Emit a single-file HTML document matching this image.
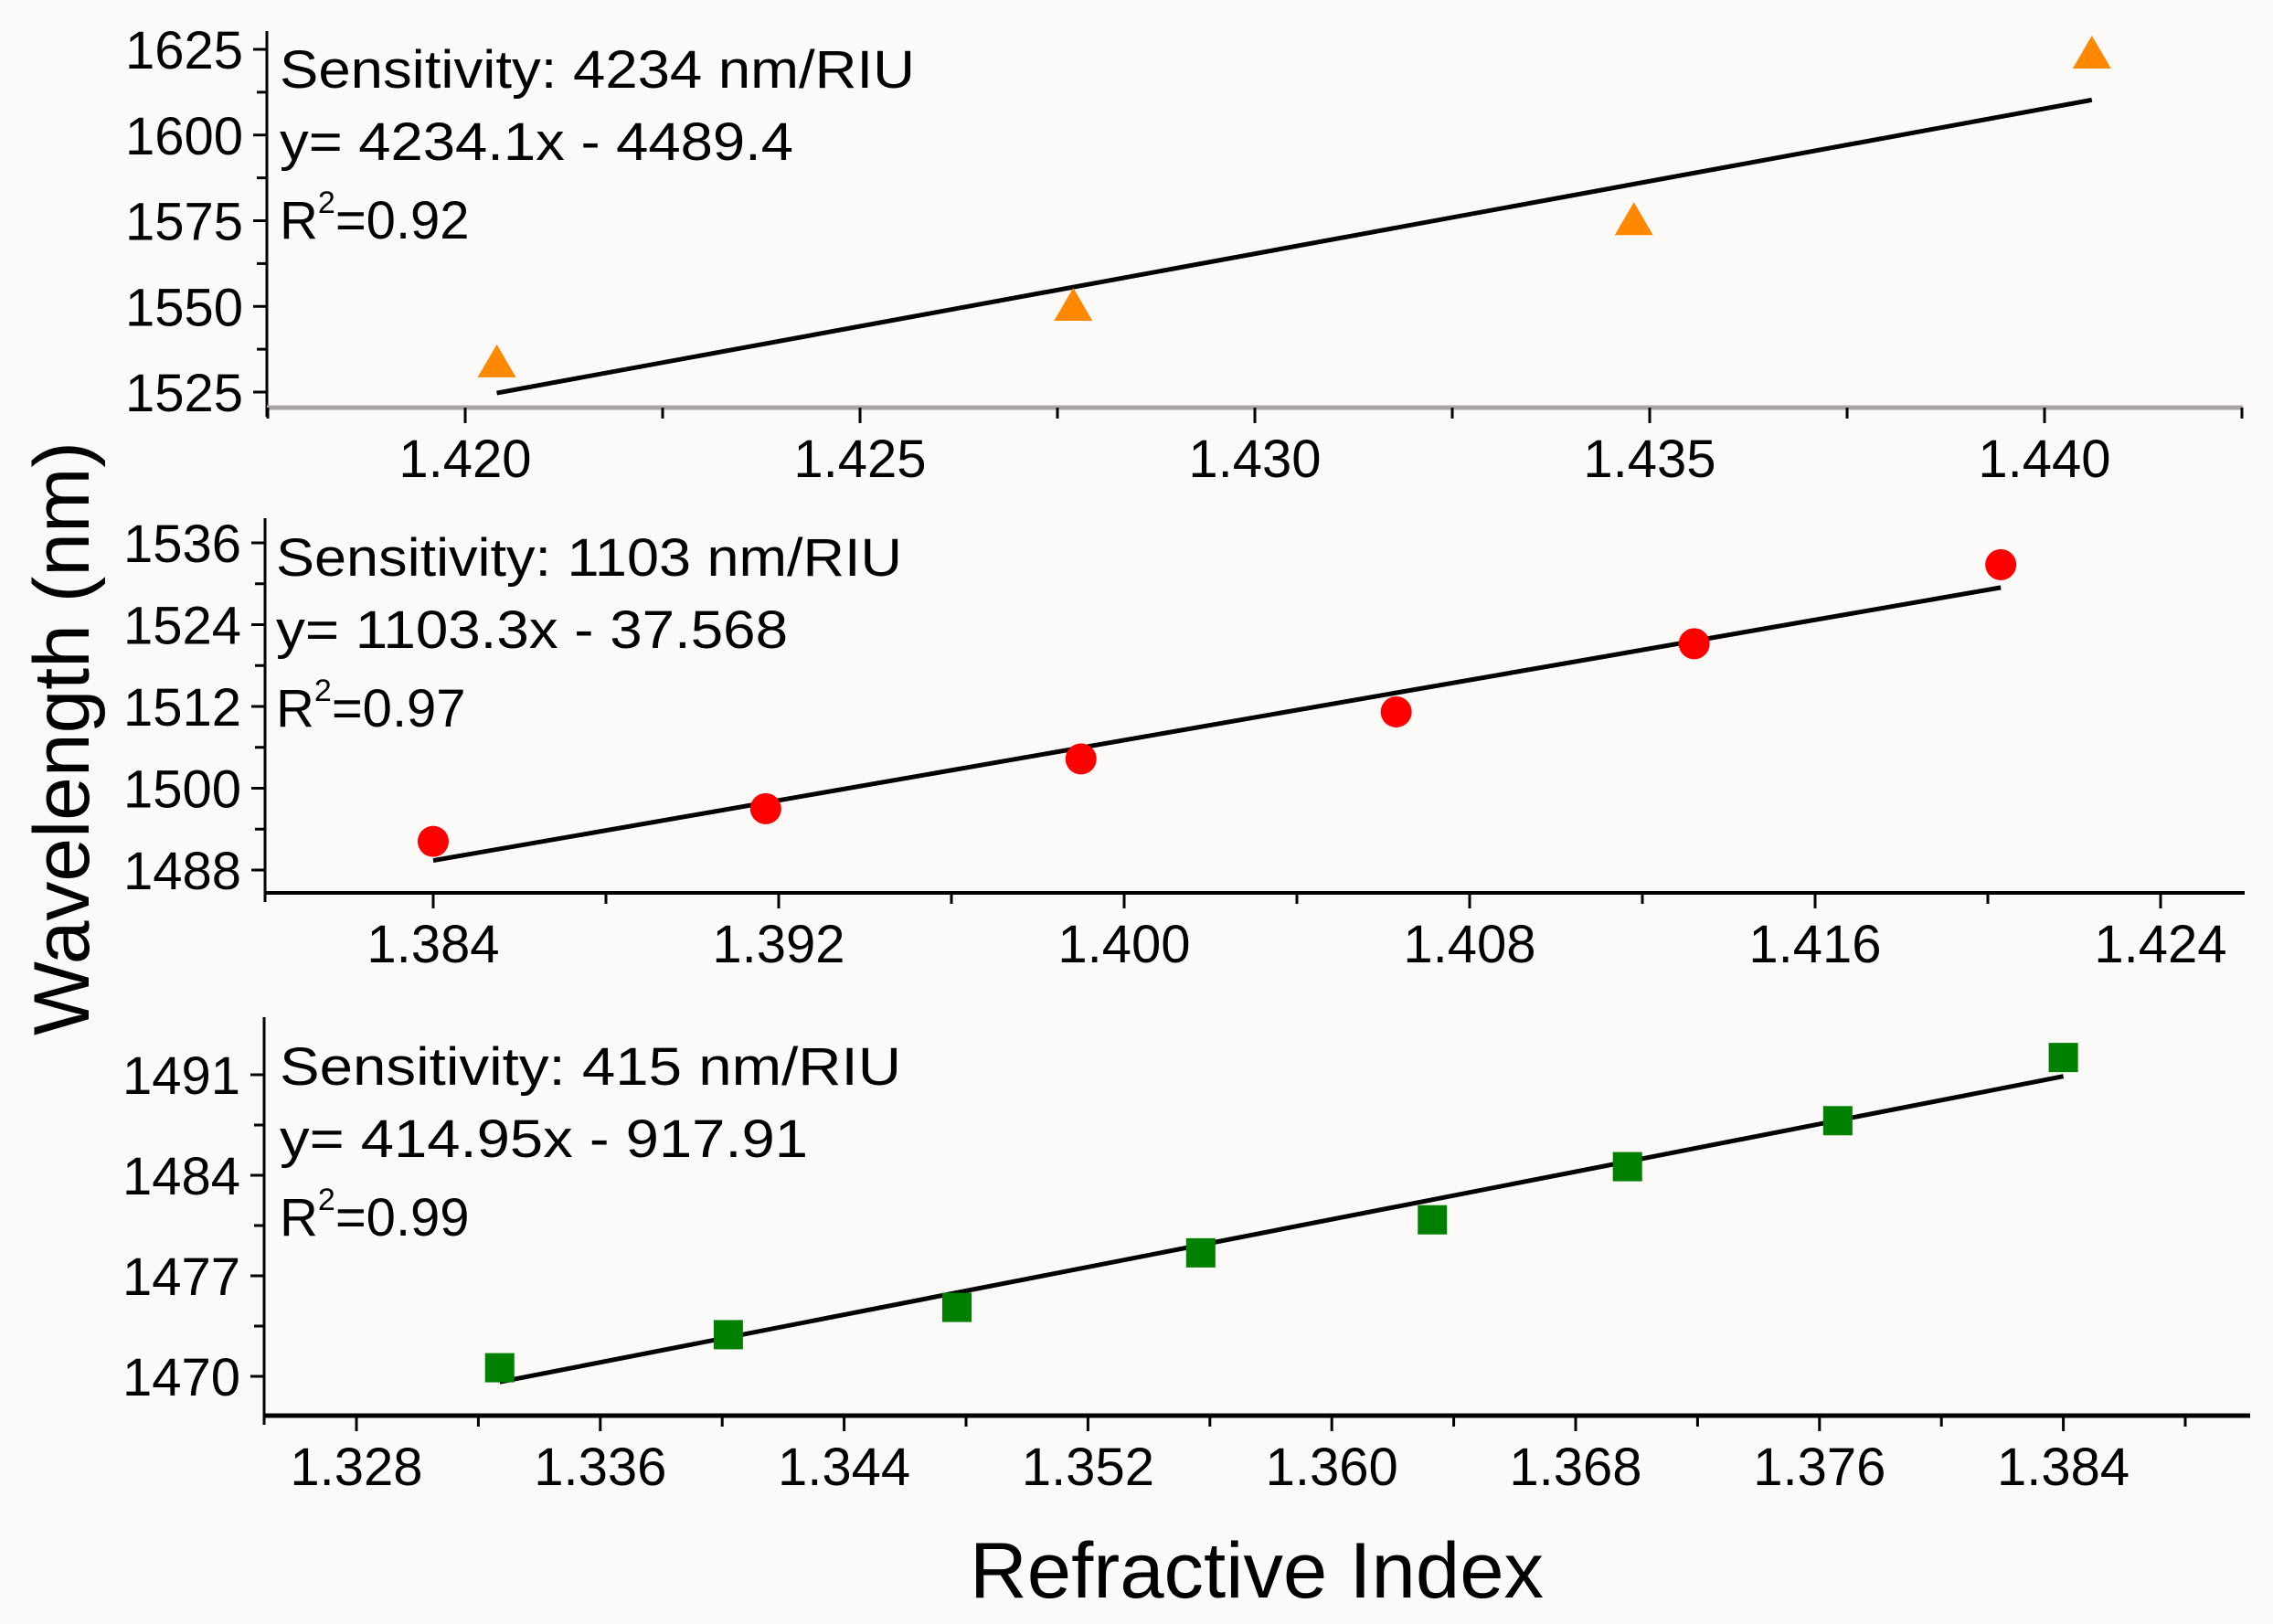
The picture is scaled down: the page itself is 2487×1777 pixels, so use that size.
<!DOCTYPE html>
<html><head><meta charset="utf-8"><style>
html,body{margin:0;padding:0;background:#fbfaf8;width:2487px;height:1777px;overflow:hidden;}
svg{display:block;font-family:"Liberation Sans",sans-serif;}
</style></head><body>
<svg id="chart" width="2487" height="1777" viewBox="0 0 2487 1777" xmlns="http://www.w3.org/2000/svg">
<rect x="0" y="0" width="2487" height="1777" fill="#fbfaf8"/>
<text x="97" y="808" font-size="86" text-anchor="middle" textLength="650" lengthAdjust="spacingAndGlyphs" transform="rotate(-90 97 808)">Wavelength (nm)</text>
<text x="1375" y="1748" font-size="86" text-anchor="middle" textLength="628" lengthAdjust="spacingAndGlyphs">Refractive Index</text>
</svg>
<script>
// Panel 1 (orange triangles)
const p1X = [1.4204, 1.4277, 1.4348, 1.4406];
const p1Y = [1532.5, 1549, 1574, 1622.6];
const p1XTicks = [1.420, 1.425, 1.430, 1.435, 1.440];
const p1YTicks = [1525, 1550, 1575, 1600, 1625];
const p1Fit = [4234.1, -4489.4];
const p1Text = ["Sensitivity: 4234 nm/RIU", "y= 4234.1x - 4489.4", "0.92"];
// Panel 2 (red circles)
const p2X = [1.384, 1.3917, 1.3990, 1.4063, 1.4132, 1.4203];
const p2Y = [1492.2, 1497.0, 1504.3, 1511.2, 1521.2, 1532.8];
const p2XTicks = [1.384, 1.392, 1.400, 1.408, 1.416, 1.424];
const p2YTicks = [1488, 1500, 1512, 1524, 1536];
const p2Fit = [1103.3, -37.568];
const p2Text = ["Sensitivity: 1103 nm/RIU", "y= 1103.3x - 37.568", "0.97"];
// Panel 3 (green squares)
const p3X = [1.3327, 1.3402, 1.3477, 1.3557, 1.3633, 1.3697, 1.3766, 1.384];
const p3Y = [1470.6, 1472.9, 1474.8, 1478.6, 1480.9, 1484.6, 1487.8, 1492.2];
const p3XTicks = [1.328, 1.336, 1.344, 1.352, 1.360, 1.368, 1.376, 1.384];
const p3YTicks = [1470, 1477, 1484, 1491];
const p3Fit = [414.95, 916.6];
const p3Text = ["Sensitivity: 415 nm/RIU", "y= 414.95x - 917.91", "0.99"];

const NS = "http://www.w3.org/2000/svg";
const svg = document.getElementById('chart');
function mk(tag, attrs, parent) {
  const e = document.createElementNS(NS, tag);
  for (const k in attrs) e.setAttribute(k, attrs[k]);
  (parent || svg).appendChild(e);
  return e;
}

function panel(cfg) {
  const g = mk('g', {});
  
  
  const xs = v => cfg.xPix0 + (v - cfg.xv0) / cfg.xStep * cfg.xPixStep;
  const ys = v => cfg.yPix0 - (v - cfg.yv0) / cfg.yStep * cfg.yPixStep;
  const ya = mk('line', {x1: cfg.axX, y1: cfg.axTop, x2: cfg.axX, y2: cfg.axY + 10, stroke: '#000', 'stroke-width': 3}, g);
  
  
  const xa = mk('line', {x1: cfg.axX, y1: cfg.axY, x2: cfg.axRight, y2: cfg.axY, stroke: cfg.xAxisColor, 'stroke-width': cfg.xAxisW}, g);
  
  
  cfg.yTicks.forEach((v, i) => {
    const y = ys(v);
    mk('line', {x1: cfg.axX - 15, y1: y, x2: cfg.axX, y2: y, stroke: '#000', 'stroke-width': 3}, g);
    const t = mk('text', {x: cfg.axX - 26, y: y + 21, 'font-size': 58, 'text-anchor': 'end'}, g);
    t.textContent = v;
    
    
    if (i < cfg.yTicks.length - 1) {
      const ym = ys(v + cfg.yStep / 2);
      mk('line', {x1: cfg.axX - 11, y1: ym, x2: cfg.axX, y2: ym, stroke: '#000', 'stroke-width': 3}, g);
    }
  });
  cfg.xTicks.forEach((v, i) => {
    const x = xs(v);
    mk('line', {x1: x, y1: cfg.axY, x2: x, y2: cfg.axY + 17, stroke: '#000', 'stroke-width': 3}, g);
    const t = mk('text', {x: x, y: cfg.axY + 76, 'font-size': 58, 'text-anchor': 'middle'}, g);
    t.textContent = v.toFixed(3);
    
    
    const xm = xs(v + cfg.xStep / 2);
    if (xm < cfg.axRight) mk('line', {x1: xm, y1: cfg.axY, x2: xm, y2: cfg.axY + 12, stroke: '#000', 'stroke-width': 3}, g);
    if (i === 0) {
      const xb = xs(v - cfg.xStep / 2);
      if (xb > cfg.axX) mk('line', {x1: xb, y1: cfg.axY, x2: xb, y2: cfg.axY + 12, stroke: '#000', 'stroke-width': 3}, g);
    }
  });
  const x0 = cfg.px[0], x1 = cfg.px[cfg.px.length - 1];
  const fit = mk('line', {x1: xs(x0), y1: ys(cfg.fit[0] * x0 + cfg.fit[1]), x2: xs(x1), y2: ys(cfg.fit[0] * x1 + cfg.fit[1]), stroke: '#000', 'stroke-width': 5}, g);
  
  
  cfg.px.forEach((v, i) => {
    const cx = xs(v), cy = ys(cfg.py[i]);
    let m;
    if (cfg.marker === 'tri') {
      m = mk('polygon', {points: `${cx},${cy - 24} ${cx - 21},${cy + 12} ${cx + 21},${cy + 12}`, fill: cfg.color}, g);
    } else if (cfg.marker === 'circle') {
      m = mk('circle', {cx: cx, cy: cy, r: 17, fill: cfg.color}, g);
    } else {
      m = mk('rect', {x: cx - 16, y: cy - 16, width: 32, height: 32, fill: cfg.color}, g);
    }
    
    
  });
  const a1 = mk('text', {x: cfg.tx, y: cfg.ty, 'font-size': 58, textLength: cfg.w1, lengthAdjust: 'spacingAndGlyphs'}, g);
  a1.textContent = cfg.text[0];
  
  
  const a2 = mk('text', {x: cfg.tx, y: cfg.ty + 79, 'font-size': 58, textLength: cfg.w2, lengthAdjust: 'spacingAndGlyphs'}, g);
  a2.textContent = cfg.text[1];
  
  
  const a3 = mk('text', {x: cfg.tx, y: cfg.ty + 165, 'font-size': 58}, g);
  
  
  const s1 = mk('tspan', {}, a3); s1.textContent = 'R';
  const s2 = mk('tspan', {'font-size': 34, dy: -28}, a3); s2.textContent = '2';
  const s3 = mk('tspan', {dy: 28}, a3); s3.textContent = '=' + cfg.text[2];
}

panel({name: 'panel-top', px: p1X, py: p1Y, xTicks: p1XTicks, yTicks: p1YTicks, fit: p1Fit, text: p1Text,
  xv0: 1.420, xStep: 0.005, xPix0: 509, xPixStep: 432, yv0: 1525, yStep: 25, yPix0: 429, yPixStep: 93.75,
  axX: 292, axTop: 34, axY: 446, axRight: 2454, xAxisColor: '#a8a4a8', xAxisW: 5,
  marker: 'tri', color: '#ff8800', tx: 306, ty: 96, w1: 695, w2: 562});
panel({name: 'panel-middle', px: p2X, py: p2Y, xTicks: p2XTicks, yTicks: p2YTicks, fit: p2Fit, text: p2Text,
  xv0: 1.384, xStep: 0.008, xPix0: 474, xPixStep: 378, yv0: 1488, yStep: 12, yPix0: 952, yPixStep: 89.5,
  axX: 290, axTop: 567, axY: 977, axRight: 2456, xAxisColor: '#000', xAxisW: 4,
  marker: 'circle', color: '#ff0000', tx: 302, ty: 630, w1: 685, w2: 560});
panel({name: 'panel-bottom', px: p3X, py: p3Y, xTicks: p3XTicks, yTicks: p3YTicks, fit: p3Fit, text: p3Text,
  xv0: 1.328, xStep: 0.008, xPix0: 390, xPixStep: 266.8, yv0: 1470, yStep: 7, yPix0: 1506, yPixStep: 110,
  axX: 289, axTop: 1113, axY: 1549, axRight: 2462, xAxisColor: '#000', xAxisW: 5,
  marker: 'square', color: '#008000', tx: 306, ty: 1187, w1: 680, w2: 578});
</script>
</body></html>
